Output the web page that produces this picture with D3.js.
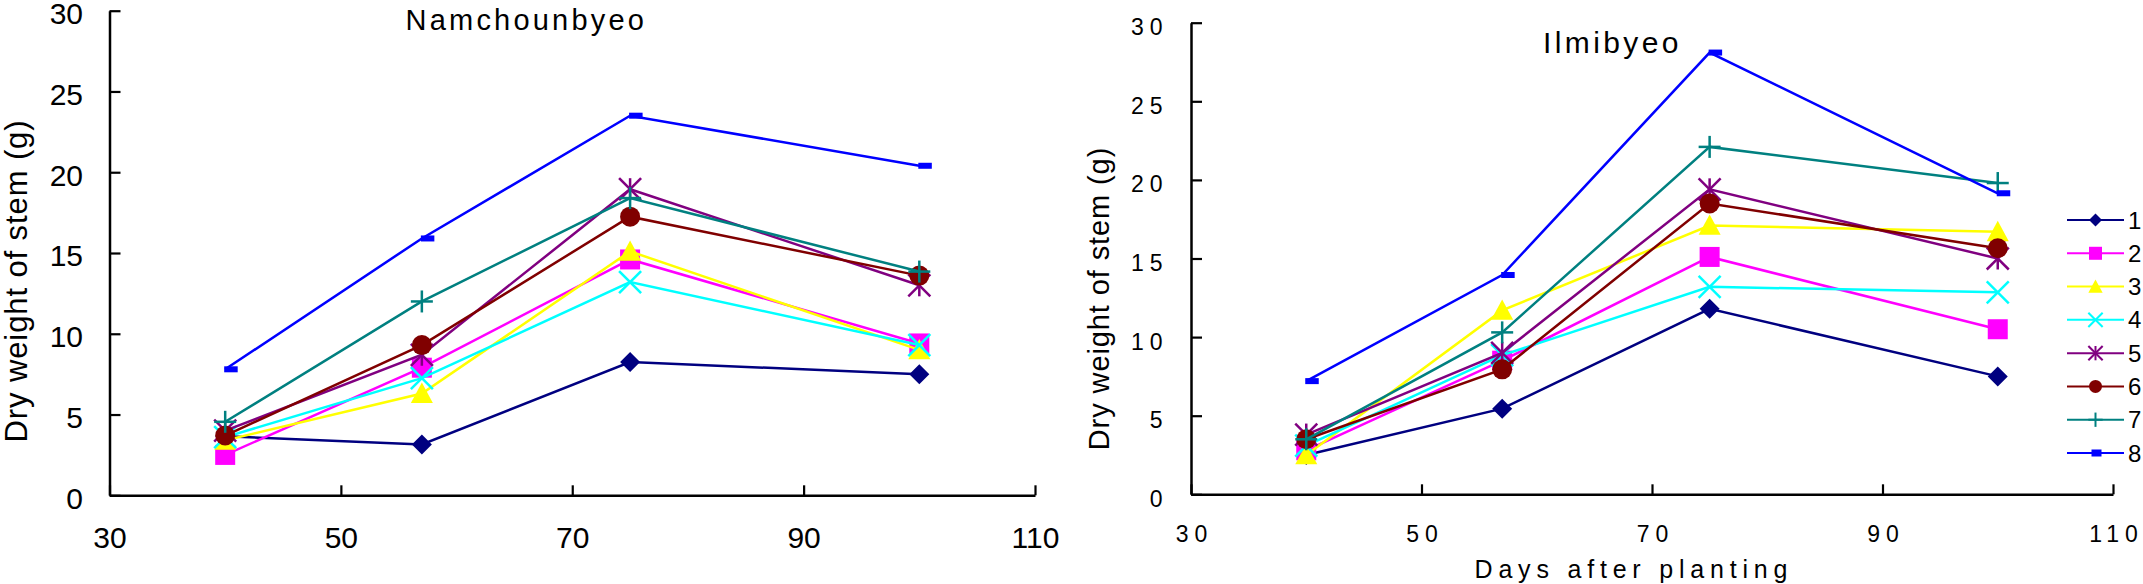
<!DOCTYPE html>
<html>
<head>
<meta charset="utf-8">
<script src="https://cdn.jsdelivr.net/npm/d3@7.9.0/dist/d3.min.js"></script>
<style>
  html, body { margin: 0; padding: 0; background: #fff; }
  svg { display: block; font-family: "Liberation Sans", Arial, sans-serif; }
</style>
</head>
<body>
<svg id="chart" width="2143" height="584"></svg>
<script>
// sampling days
const days = [40, 57, 75, 100];
const treatments = ['1', '2', '3', '4', '5', '6', '7', '8'];

// dry weight of stem (g), one row per treatment
const namchounbyeo = [
  [3.65, 3.15, 8.25, 7.5],
  [2.5, 7.9, 14.6, 9.4],
  [3.4, 6.3, 15.1, 9.0],
  [3.6, 7.25, 13.2, 9.3],
  [4.0, 8.7, 18.95, 13.0],
  [3.7, 9.3, 17.25, 13.6],
  [4.55, 12.0, 18.4, 13.85],
  [7.8, 15.9, 23.5, 20.4]
];
const ilmibyeo = [
  [2.5, 5.45, 11.8, 7.5],
  [2.8, 8.5, 15.1, 10.5],
  [2.5, 11.7, 17.1, 16.7],
  [3.1, 8.85, 13.2, 12.85],
  [3.8, 9.0, 19.4, 15.0],
  [3.5, 7.95, 18.5, 15.65],
  [3.5, 10.3, 22.1, 19.8],
  [7.2, 13.95, 28.1, 19.15]
];

const xTicks = [30, 50, 70, 90, 110];
const yTicks = [0, 5, 10, 15, 20, 25, 30];

const colors = ['#000080', '#ff00ff', '#ffff00', '#00ffff', '#800080', '#800000', '#008080', '#0000ff'];
const shapes = ['diamond', 'square', 'triangle', 'cross', 'star', 'circle', 'plus', 'dash'];

const svg = d3.select('#chart');
svg.append('rect').attr('width', 2143).attr('height', 584).attr('fill', '#fff');

/*markers, s = half size*/
function drawMarker(g, shape, s, color) {
  const sw = s > 8 ? 2.5 : 2;
  if (shape === 'diamond') {
    g.append('path').attr('d', `M0,${-s}L${s},0L0,${s}L${-s},0Z`).attr('fill', color);
  } else if (shape === 'square') {
    g.append('rect').attr('x', -s).attr('y', -s).attr('width', 2 * s).attr('height', 2 * s).attr('fill', color);
  } else if (shape === 'triangle') {
    const t = s * 1.1;
    g.append('path').attr('d', `M0,${-t}L${t},${t * 0.85}L${-t},${t * 0.85}Z`).attr('fill', color);
  } else if (shape === 'circle') {
    g.append('circle').attr('r', s).attr('fill', color);
  } else if (shape === 'dash') {
    const w = s * 1.35, h = s * 0.6;
    g.append('rect').attr('x', -1).attr('y', -h / 2).attr('width', w).attr('height', h).attr('fill', color);
  } else {
    const c = s * 1.1;
    let segs = [];
    if (shape === 'cross' || shape === 'star') segs.push([-c, -c, c, c], [-c, c, c, -c]);
    if (shape === 'star') segs.push([0, -c, 0, c]);
    if (shape === 'plus') segs.push([-c, 0, c, 0], [0, -c, 0, c]);
    segs.forEach(p => {
      g.append('line').attr('x1', p[0]).attr('y1', p[1]).attr('x2', p[2]).attr('y2', p[3])
        .attr('stroke', color).attr('stroke-width', sw);
    });
  }
}

const panels = [
  {
    title: 'Namchounbyeo', data: namchounbyeo,
    x0: 109.5, x1: 1035, yTop: 10.7, yBottom: 495.3,
    tickFont: 30, tickLs: 0, yLabRight: 83, yLabDy: 12.8, xLabBase: 548,
    titleX: 405.6, titleY: 30, titleFont: 29, titleLs: 3.2,
    ylabX: 27, ylabY: 281, ylabFont: 31, ylabLs: 0.9
  },
  {
    title: 'Ilmibyeo', data: ilmibyeo,
    x0: 1191, x1: 2113, yTop: 22.7, yBottom: 494.3,
    tickFont: 23, tickLs: 6, yLabRight: 1162.5, yLabDy: 12, xLabBase: 542,
    titleX: 1543, titleY: 53, titleFont: 30, titleLs: 3.4,
    ylabX: 1109, ylabY: 298.5, ylabFont: 29, ylabLs: 0.9
  }
];

panels.forEach(p => {
  const x = d3.scaleLinear().domain([30, 110]).range([p.x0, p.x1]);
  const y = d3.scaleLinear().domain([0, 30]).range([p.yBottom, p.yTop]);
  const g = svg.append('g');

  // axes with inside ticks
  const xAxis = d3.axisBottom(x).tickValues(xTicks).tickSizeInner(-10).tickSizeOuter(0);
  const yAxis = d3.axisLeft(y).tickValues(yTicks).tickSizeInner(-11).tickSizeOuter(0);

  const gx = g.append('g').attr('transform', `translate(0,${p.yBottom})`).call(xAxis);
  const gy = g.append('g').attr('transform', `translate(${p.x0},0)`).call(yAxis);

  [gx, gy].forEach(a => {
    a.attr('font-family', null).attr('font-size', null);
    a.select('.domain').attr('stroke', '#000').attr('stroke-width', 2.5);
    a.selectAll('.tick line').attr('stroke', '#000').attr('stroke-width', 2.2);
    a.selectAll('.tick text')
      .attr('fill', '#000')
      .attr('font-size', p.tickFont)
      .attr('letter-spacing', p.tickLs);
  });

  gx.selectAll('.tick text')
    .attr('y', p.xLabBase - p.yBottom)
    .attr('dy', null)
    .attr('dx', p.tickLs / 2);

  gy.selectAll('.tick text')
    .attr('x', p.yLabRight - p.x0 + p.tickLs)
    .attr('dy', null)
    .attr('y', p.yLabDy);

  // series lines and markers
  const line = d3.line().x((d, i) => x(days[i])).y(d => y(d));

  p.data.forEach((vals, si) => {
    const sg = g.append('g');
    sg.append('path')
      .attr('d', line(vals))
      .attr('fill', 'none')
      .attr('stroke', colors[si])
      .attr('stroke-width', 2.5);

    sg.selectAll('g.pt')
      .data(vals)
      .join('g')
      .attr('class', 'pt')
      .attr('transform', (d, i) => `translate(${x(days[i])},${y(d)})`)
      .each(function () { drawMarker(d3.select(this), shapes[si], 10, colors[si]); });
  });

  // chart title
  g.append('text')
    .attr('x', p.titleX)
    .attr('y', p.titleY)
    .attr('font-size', p.titleFont)
    .attr('letter-spacing', p.titleLs)
    .text(p.title);

  // y axis title
  g.append('text')
    .attr('transform', `translate(${p.ylabX},${p.ylabY}) rotate(-90)`)
    .attr('text-anchor', 'middle')
    .attr('font-size', p.ylabFont)
    .attr('letter-spacing', p.ylabLs)
    .text('Dry weight of stem (g)');
});

/*x axis title (shared)*/
svg.append('text')
  .attr('x', 1631 + 2.9)
  .attr('y', 578)
  .attr('text-anchor', 'middle')
  .attr('font-size', 25)
  .attr('letter-spacing', 5.8)
  .text('Days after planting');

/*legend*/
const legend = svg.append('g');
const legendY = d3.scalePoint().domain(treatments).range([220, 453]);

treatments.forEach((t, i) => {
  const ly = legendY(t);
  legend.append('line')
    .attr('x1', 2067).attr('x2', 2124)
    .attr('y1', ly).attr('y2', ly)
    .attr('stroke', colors[i]).attr('stroke-width', 2);
  const mg = legend.append('g').attr('transform', `translate(2095.5,${ly})`);
  if (shapes[i] === 'dash') {
    mg.append('rect').attr('x', -4).attr('y', -3.5).attr('width', 10).attr('height', 7).attr('fill', colors[i]);
  } else {
    drawMarker(mg, shapes[i], 6.5, colors[i]);
  }
  legend.append('text')
    .attr('x', 2128)
    .attr('y', ly + 8.5)
    .attr('font-size', 24)
    .text(t);
});
</script>
</body>
</html>
